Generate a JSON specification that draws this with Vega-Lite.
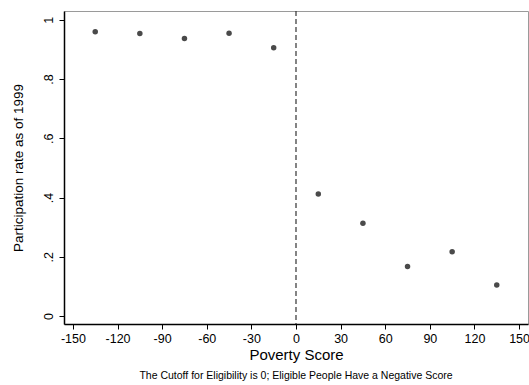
{
  "$schema": "https://vega.github.io/schema/vega-lite/v6.json",
  "width": 464,
  "height": 313,
  "autosize": "none",
  "padding": {"left": 64, "top": 11, "right": 1, "bottom": 61},
  "background": "white",
  "config": {
    "font": "Liberation Sans",
    "view": {"stroke": "#9a9a9a", "strokeWidth": 1}
  },
  "title": {
    "text": "The Cutoff for Eligibility is 0; Eligible People Have a Negative Score",
    "orient": "bottom",
    "fontSize": 10.5,
    "fontWeight": "normal",
    "color": "#000000",
    "offset": 8
  },
  "data": {
    "values": [
      {"score": -135, "rate": 0.960},
      {"score": -105, "rate": 0.954},
      {"score": -75, "rate": 0.937},
      {"score": -45, "rate": 0.955},
      {"score": -15, "rate": 0.906},
      {"score": 15, "rate": 0.412},
      {"score": 45, "rate": 0.313},
      {"score": 75, "rate": 0.167},
      {"score": 105, "rate": 0.217},
      {"score": 135, "rate": 0.105}
    ]
  },
  "layer": [
    {
      "data": {"values": [{"cutoff": 0}]},
      "mark": {"type": "rule", "color": "#333333", "strokeWidth": 1.2, "strokeDash": [5, 3]},
      "encoding": {
        "x": {"field": "cutoff", "type": "quantitative", "scale": {"domain": [-156, 156]}}
      }
    },
    {
      "mark": {"type": "circle", "size": 30, "color": "#4a4a4a", "opacity": 1},
      "encoding": {
        "x": {
          "field": "score",
          "type": "quantitative",
          "scale": {"domain": [-156, 156], "nice": false, "zero": false},
          "axis": {
            "title": "Poverty Score",
            "values": [-150, -120, -90, -60, -30, 0, 30, 60, 90, 120, 150],
            "labelExpr": "datum.value < 0 ? '-' + format(-datum.value, 'd') : format(datum.value, 'd')",
            "grid": false,
            "domainColor": "#000000",
            "domainWidth": 1.5,
            "tickColor": "#000000",
            "tickSize": 5,
            "labelFontSize": 12.5,
            "labelColor": "#000000",
            "labelPadding": 3,
            "labelFlush": false,
            "titleFontSize": 15,
            "titleFontWeight": "normal",
            "titleColor": "#000000",
            "titlePadding": 3
          }
        },
        "y": {
          "field": "rate",
          "type": "quantitative",
          "scale": {"domain": [-0.027, 1.03], "nice": false, "zero": false},
          "axis": {
            "title": "Participation rate as of 1999",
            "values": [0, 0.2, 0.4, 0.6, 0.8, 1],
            "labelExpr": "datum.value == 0 ? '0' : datum.value == 1 ? '1' : replace(format(datum.value, '.1f'), '0.', '.')",
            "grid": false,
            "domainColor": "#000000",
            "domainWidth": 1.5,
            "tickColor": "#000000",
            "tickSize": 5,
            "labelAngle": -90,
            "labelAlign": "center",
            "labelBaseline": "bottom",
            "labelFontSize": 12.5,
            "labelColor": "#000000",
            "labelPadding": 4,
            "titleFontSize": 13.5,
            "titleFontWeight": "normal",
            "titleColor": "#000000",
            "titlePadding": 17
          }
        }
      }
    }
  ]
}
